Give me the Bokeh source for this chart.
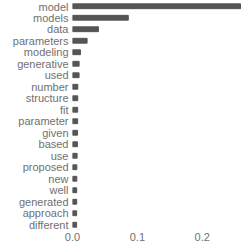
from bokeh.plotting import figure
from bokeh.models import Range1d, FixedTicker, NumeralTickFormatter
from bokeh.embed import file_html
from bokeh.resources import INLINE

words = ["model", "models", "data", "parameters", "modeling", "generative", "used",
         "number", "structure", "fit", "parameter", "given", "based", "use",
         "proposed", "new", "well", "generated", "approach", "different"]
scores = [0.259, 0.086, 0.040, 0.0225, 0.0123, 0.0102, 0.0101, 0.0082, 0.0081, 0.0080,
          0.0079, 0.0078, 0.0076, 0.0071, 0.0067, 0.0066, 0.0065, 0.0065, 0.0064, 0.0064]
x_ticks = [0.0, 0.1, 0.2]

p = figure(width=241, height=243, y_range=list(reversed(words)),
           x_range=Range1d(0, 0.2605), output_backend="svg", toolbar_location=None,
           min_border_left=72, min_border_right=0, min_border_top=0, min_border_bottom=0)
p.hbar(y=words, right=scores, left=0, height=0.42, color="#555555")

p.xgrid.visible = False
p.ygrid.visible = False
p.outline_line_color = None
for ax in (p.xaxis, p.yaxis):
    ax.axis_line_color = None
    ax.major_tick_line_color = None
    ax.minor_tick_line_color = None
    ax.major_tick_out = 0
    ax.major_tick_in = 0
    ax.major_label_text_font = "Liberation Sans"
    ax.major_label_text_font_size = "11px"
    ax.major_label_text_color = "#707070"
p.yaxis.major_label_standoff = 4
p.xaxis.major_label_standoff = 2
p.xaxis.ticker = FixedTicker(ticks=x_ticks)
p.xaxis.formatter = NumeralTickFormatter(format="0.0")

open("out.html", "w").write(file_html(p, INLINE))
